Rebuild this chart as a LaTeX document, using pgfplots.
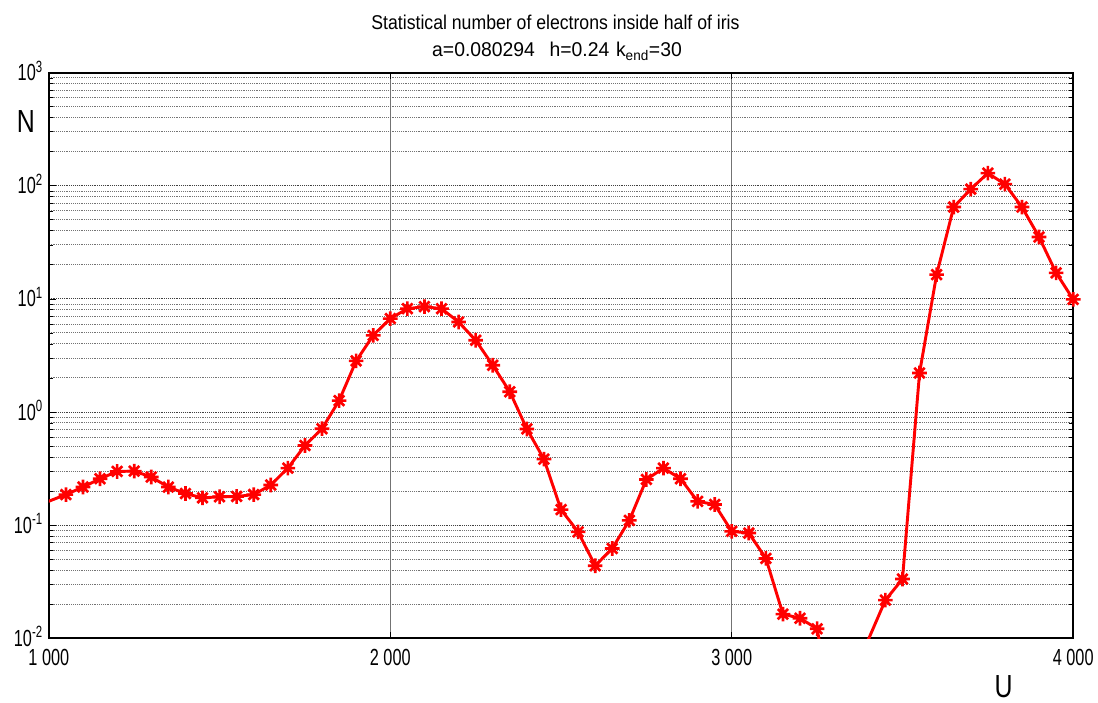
\documentclass[border=0pt]{standalone}
\usepackage{fontspec}
\setmainfont{Liberation Sans}
\newfontfamily\tickfont{Liberation Sans}[FakeStretch=0.70]
\newfontfamily\titlefont{Liberation Sans}[FakeStretch=0.885]
\newfontfamily\titlefontb{Liberation Sans}[FakeStretch=0.97]
\newfontfamily\labfont{Liberation Sans}[FakeStretch=0.78]
\usepackage{pgfplots}
\pgfplotsset{compat=1.18}
\usepackage{pgfplotstable}

\pgfdeclareplotmark{mstar}{%
  \pgfpathmoveto{\pgfqpoint{-\pgfplotmarksize}{0pt}}\pgfpathlineto{\pgfqpoint{\pgfplotmarksize}{0pt}}%
  \pgfpathmoveto{\pgfqpoint{0pt}{-\pgfplotmarksize}}\pgfpathlineto{\pgfqpoint{0pt}{\pgfplotmarksize}}%
  \pgfpathmoveto{\pgfqpoint{-0.707\pgfplotmarksize}{-0.707\pgfplotmarksize}}\pgfpathlineto{\pgfqpoint{0.707\pgfplotmarksize}{0.707\pgfplotmarksize}}%
  \pgfpathmoveto{\pgfqpoint{-0.707\pgfplotmarksize}{0.707\pgfplotmarksize}}\pgfpathlineto{\pgfqpoint{0.707\pgfplotmarksize}{-0.707\pgfplotmarksize}}%
  \pgfusepathqstroke}

\pgfplotstableread{
U N
950 0.142
1050 0.186
1100 0.217
1150 0.257
1200 0.298
1250 0.300
1300 0.266
1350 0.217
1400 0.190
1450 0.174
1500 0.178
1550 0.179
1600 0.186
1650 0.226
1700 0.319
1750 0.505
1800 0.712
1850 1.26
1900 2.83
1950 4.76
2000 6.70
2050 8.2
2100 8.54
2150 8.2
2200 6.25
2250 4.31
2300 2.59
2350 1.51
2400 0.708
2450 0.383
2500 0.137
2550 0.0871
2600 0.0437
2650 0.0621
2700 0.110
2750 0.253
2800 0.319
2850 0.257
2900 0.162
2950 0.152
3000 0.088
3050 0.085
3100 0.0507
3150 0.0163
3200 0.0150
3250 0.0121
3300 0.0018
3350 0.0015
3400 0.0097
3450 0.0217
3500 0.0333
3550 2.21
3600 16.4
3650 64.9
3700 93.5
3750 129.5
3800 103.5
3850 64.9
3900 35.3
3950 17.0
4000 9.9
}\datatable

\begin{document}
\begin{tikzpicture}
\begin{axis}[
  width=770pt, height=425pt, scale only axis,
  xmin=1000, xmax=4000,
  ymode=log, ymin=1e-2, ymax=1e3,
  xtick={1000,2000,3000,4000},
  xticklabels={1 000,2 000,3 000,4 000},
  ytick={1e-2,1e-1,1,10,100,1000},
  yticklabels={10\smash{\textsuperscript{-2}},10\smash{\textsuperscript{-1}},10\smash{\textsuperscript{0}},10\smash{\textsuperscript{1}},10\smash{\textsuperscript{2}},10\smash{\textsuperscript{3}}},
  yticklabel style={anchor=east, xshift=-1pt},
  xticklabel style={anchor=north, yshift=-5pt},
  ticklabel style={font=\tickfont\fontsize{17.5}{20}\selectfont},
  xmajorgrids, ymajorgrids, yminorgrids,
  major x grid style={black!55, line width=0.5pt},
  major y grid style={black!75, densely dotted, line width=0.7pt},
  minor y grid style={black!55, densely dotted, line width=0.7pt},
  axis line style={black, line width=1.5pt},
  tick style={black, line width=0.6pt},
  tick align=inside,
  major tick length=5pt, minor tick length=3pt,
  clip mode=individual,
]
\addplot[red, line width=2.2pt] table[x=U, y=N] {\datatable};
\addplot[red, only marks, mark=mstar, mark size=5.5pt, line width=2pt,
  restrict x to domain=1000:4000, restrict y to domain=-4.6:10] table[x=U, y=N] {\datatable};
\coordinate (bl) at (rel axis cs:-0.0477,-0.1058);
\coordinate (tr) at (rel axis cs:1.0214,1.1287);
\node[inner sep=0pt, font=\titlefont\fontsize{15}{17}\selectfont, anchor=base] at (rel axis cs:0.4946,1.0758) {Statistical number of electrons inside half of iris};
\node[inner sep=0pt, font=\titlefontb\fontsize{15}{17}\selectfont, anchor=base] at (rel axis cs:0.4961,1.0288) {a=0.080294\hspace{11pt}h=0.24\hspace{5pt}k\textsubscript{end}=30};
\node[font=\labfont\fontsize{24}{28}\selectfont, anchor=center] at (rel axis cs:-0.0224,0.9136) {N};
\node[font=\labfont\fontsize{24}{28}\selectfont, anchor=center] at (rel axis cs:0.932,-0.0864) {U};
\end{axis}
\path (bl) rectangle (tr);
\end{tikzpicture}
\end{document}
